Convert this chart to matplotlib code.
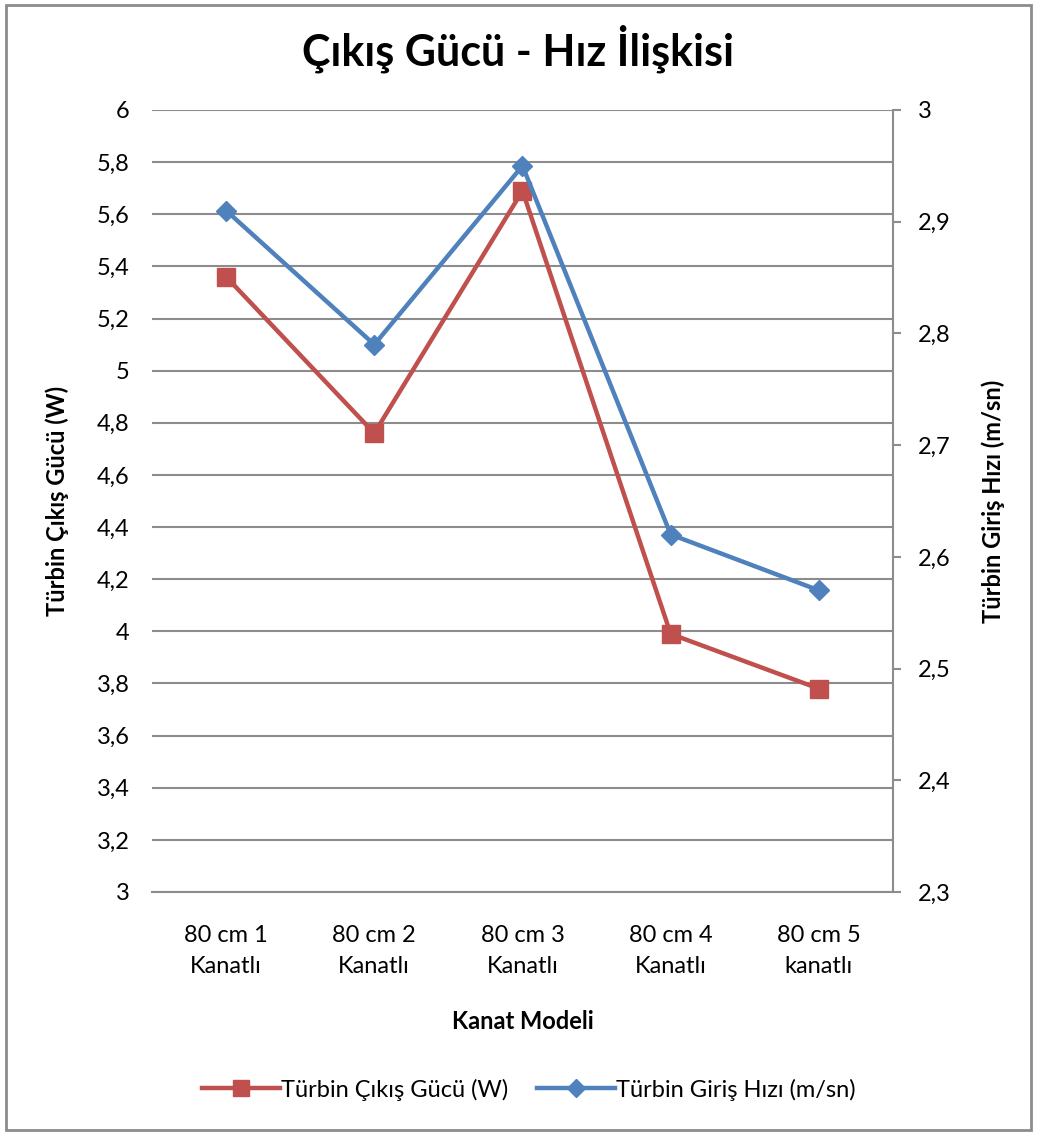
import matplotlib
matplotlib.use("Agg")
import matplotlib.pyplot as plt
from matplotlib.patches import Rectangle
from matplotlib.ticker import FuncFormatter, MultipleLocator

plt.rcParams["font.family"] = ["Lato", "DejaVu Sans"]

categories = ["80 cm 1\nKanatlı", "80 cm 2\nKanatlı", "80 cm 3\nKanatlı",
              "80 cm 4\nKanatlı", "80 cm 5\nkanatlı"]
power_w = [5.36, 4.76, 5.69, 3.99, 3.78]        # Türbin Çıkış Gücü (W)
speed_ms = [2.91, 2.79, 2.95, 2.62, 2.57]       # Türbin Giriş Hızı (m/sn)

RED = "#C0504D"
BLUE = "#4F81BD"
GRID = "#8C8C8C"


def comma(v, _):
    s = f"{v:.1f}".rstrip("0").rstrip(".")
    return s.replace(".", ",")


fig = plt.figure(figsize=(10.37, 11.35), dpi=100)
fig.patches.append(Rectangle((0.006, 0.004), 0.988, 0.992, transform=fig.transFigure,
                             fill=False, edgecolor="#8C8C8C", linewidth=2))

ax = fig.add_axes([0.1466, 0.2141, 0.7145, 0.6890])
ax2 = ax.twinx()
x = range(len(categories))

ax.plot(x, power_w, color=RED, lw=3.2, marker="s", ms=13, zorder=3,
        label="Türbin Çıkış Gücü (W)")
ax2.plot(x, speed_ms, color=BLUE, lw=3.2, marker="D", ms=10.5, zorder=3,
         label="Türbin Giriş Hızı (m/sn)")

ax.set_xlim(-0.5, len(categories) - 0.5)
ax.set_ylim(3, 6)
ax.yaxis.set_major_locator(MultipleLocator(0.2))
ax.yaxis.set_major_formatter(FuncFormatter(comma))
ax2.set_ylim(2.3, 3.0)
ax2.yaxis.set_major_locator(MultipleLocator(0.1))
ax2.yaxis.set_major_formatter(FuncFormatter(comma))

ax.grid(axis="y", color=GRID, lw=1.5)
ax.set_axisbelow(True)
for s in ["top", "left", "right"]:
    ax.spines[s].set_visible(False)
for s in ["top", "left", "bottom"]:
    ax2.spines[s].set_visible(False)
ax.spines["bottom"].set_color(GRID)
ax.spines["bottom"].set_linewidth(1.5)
ax2.spines["right"].set_color(GRID)
ax2.spines["right"].set_linewidth(1.5)

ax.set_xticks(list(x))
ax.set_xticklabels(categories, fontsize=17, linespacing=1.55)
ax.tick_params(axis="x", length=0, pad=24)
ax.tick_params(axis="y", length=0, labelsize=17, pad=16)
ax2.tick_params(axis="y", length=6, color=GRID, width=1.5, labelsize=17, pad=12)

ax.set_xlabel("Kanat Modeli", fontsize=17, fontweight="bold", labelpad=24)
ax.set_ylabel("Türbin Çıkış Gücü (W)", fontsize=17, fontweight="bold", labelpad=20)
ax2.set_ylabel("Türbin Giriş Hızı (m/sn)", fontsize=17, fontweight="bold",
               rotation=90, labelpad=22)

fig.suptitle("Çıkış Gücü - Hız İlişkisi", y=0.978, fontsize=31, fontweight="bold")

h1, l1 = ax.get_legend_handles_labels()
h2, l2 = ax2.get_legend_handles_labels()
fig.legend(h1 + h2, l1 + l2, loc="center", bbox_to_anchor=(0.51, 0.04), ncol=2,
           frameon=False, fontsize=17, handlelength=3.3, handletextpad=0.05,
           columnspacing=1.2, markerscale=0.9)

fig.savefig("out.png", dpi=100)
